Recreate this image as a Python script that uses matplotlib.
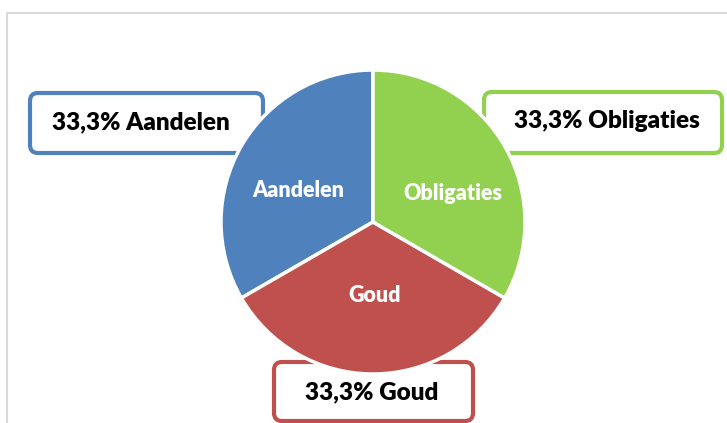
import matplotlib.pyplot as plt
from matplotlib.patches import FancyBboxPatch

# data
categories = ["Aandelen", "Goud", "Obligaties"]
shares = [33.3, 33.3, 33.3]
colors = ["#4F81BD", "#C0504D", "#92D050"]
callouts = ["33,3% Aandelen", "33,3% Goud", "33,3% Obligaties"]

W, H = 727, 423
fig = plt.figure(figsize=(W / 100, H / 100), dpi=100)
ax = fig.add_axes([0, 0, 1, 1])
ax.set_xlim(0, W)
ax.set_ylim(0, H)
ax.set_aspect("equal")
ax.axis("off")

# light chart frame (top and left edges visible)
ax.plot([7, 7, W + 5], [-5, H - 13, H - 13], color="#D9D9D9", lw=1.5, zorder=0)

# callout boxes: (x0, y_top, x1, y_bottom) in pixels from top
boxes = [(30, 93, 263, 153), (274, 362, 473, 421), (484, 92, 722, 153)]
for (x0, y0, x1, y1), col in zip(boxes, colors):
    r = 8
    p = FancyBboxPatch((x0 + r, H - y1 + r), (x1 - x0) - 2 * r, (y1 - y0) - 2 * r,
                       boxstyle=f"round,pad={r}", fc="white", ec=col, lw=3, zorder=1)
    ax.add_patch(p)

wedges, texts = ax.pie(shares, labels=categories, colors=colors, startangle=90,
                       counterclock=True, center=(373, H - 222), radius=152,
                       labeldistance=0.53, frame=True,
                       wedgeprops=dict(edgecolor="white", linewidth=2.5),
                       textprops=dict(color="white", fontsize=15.5, fontweight="heavy",
                                      family="Lato"))
for w in wedges:
    w.set_zorder(2)

# inner label positions (px from top-left), as in the original
label_pos = [(298, 190), (375, 295), (453, 193)]
for t, (x, y) in zip(texts, label_pos):
    t.set_position((x, H - y))
    t.set_zorder(3)
    t.set_ha("center")
    t.set_va("center")

ax.set_xlim(0, W)
ax.set_ylim(0, H)
ax.axis("off")

# callout texts
text_pos = [(141, 122), (372, 392), (607, 121)]
for (x, y), txt in zip(text_pos, callouts):
    ax.text(x, H - y, txt, ha="center", va="center", fontsize=17.5,
            fontweight="heavy", family="Lato", color="black", zorder=4)

fig.savefig("out.png", dpi=100)
